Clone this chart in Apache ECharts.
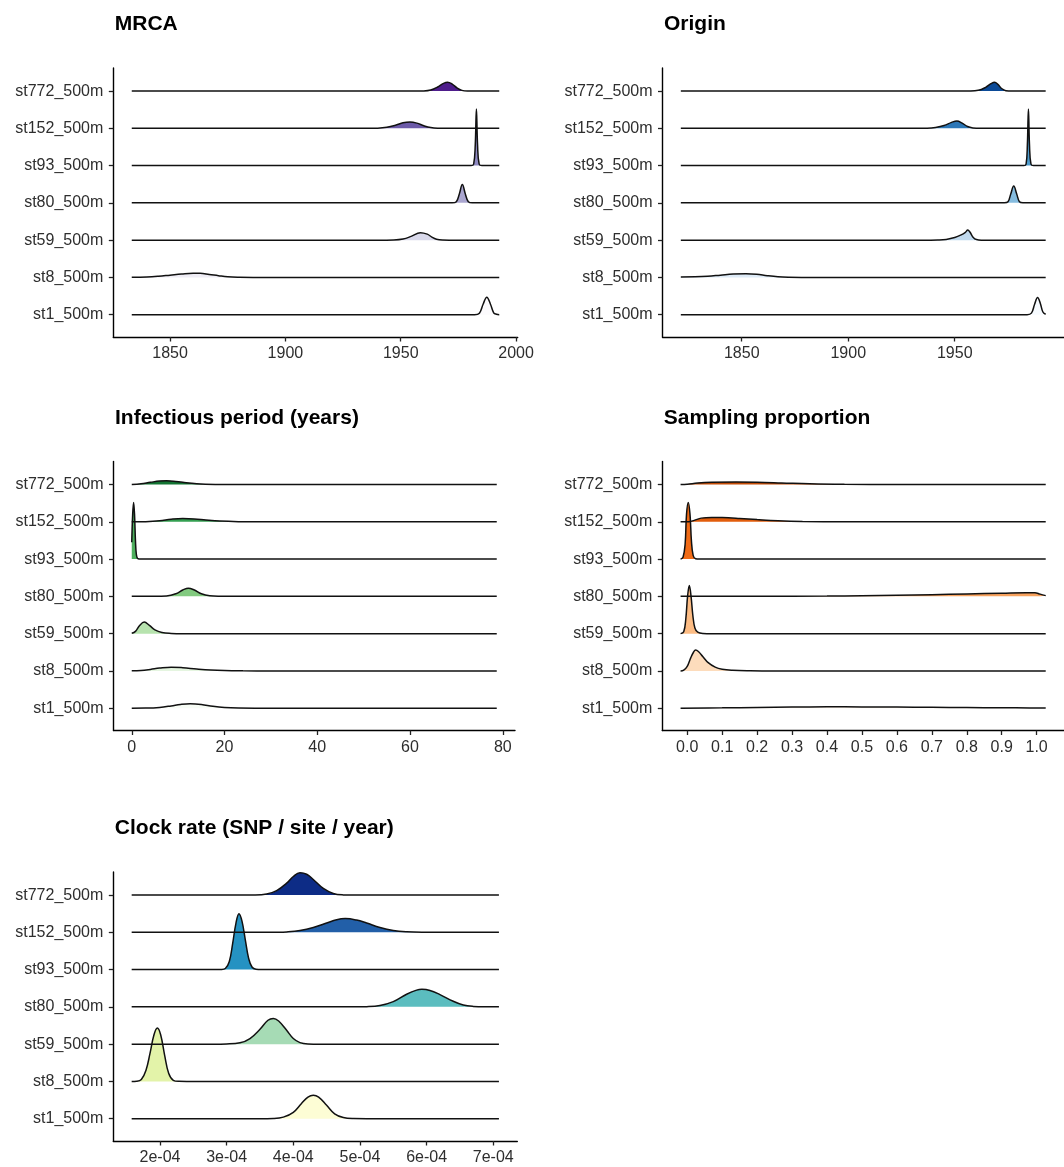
<!DOCTYPE html>
<html><head><meta charset="utf-8">
<script src="https://cdn.jsdelivr.net/npm/echarts@6/dist/echarts.min.js"></script>
<style>html,body{margin:0;padding:0;background:#fff}#c{width:1064px;height:1167px}</style>
</head><body><div id="c"></div>
<script>
// Row names, bottom to top
const rowNames = ['st1_500m','st8_500m','st59_500m','st80_500m','st93_500m','st152_500m','st772_500m'];

// Ridge curves: [x, scaled density height in row units], rows in rowNames order
const mrcaRidges = [
  [[1833.4,0],[1975,0],[1982,0],[1984.1,0.04],[1985.7,0.28],[1987.3,0.47],[1988.9,0.28],[1990.3,0.05],[1991.5,0.01],[1992.7,0]],
  [[1833.4,0.003],[1840,0.01],[1845,0.03],[1850,0.06],[1855,0.09],[1860,0.11],[1863,0.11],[1867,0.08],[1871,0.045],[1875,0.015],[1880,0.003],[1886,0],[1992.7,0]],
  [[1833.4,0],[1940,0],[1947,0.005],[1951,0.03],[1954.5,0.1],[1958.5,0.2],[1961.5,0.16],[1963.5,0.08],[1965.5,0.025],[1968,0.003],[1971,0],[1992.7,0]],
  [[1833.4,0],[1968,0],[1972.3,0],[1974.1,0.03],[1975.4,0.24],[1976.7,0.49],[1978,0.24],[1979.3,0.03],[1981,0],[1992.7,0]],
  [[1833.4,0],[1976,0],[1980.5,0],[1981.6,0.04],[1982.3,0.55],[1982.8,1.52],[1983.3,0.55],[1984,0.04],[1985.2,0],[1992.7,0]],
  [[1833.4,0],[1935,0],[1940,0.005],[1944,0.03],[1948,0.09],[1951,0.15],[1954,0.17],[1957,0.14],[1960,0.07],[1963,0.02],[1966,0.003],[1970,0],[1992.7,0]],
  [[1833.4,0],[1955,0],[1960,0.005],[1963,0.03],[1966,0.11],[1968.3,0.2],[1970.3,0.24],[1972.3,0.19],[1974.5,0.08],[1976.5,0.02],[1979,0.002],[1983,0],[1992.7,0]]
];
const originRidges = [
  [[1821.4,0],[1975,0],[1984,0],[1986,0.04],[1987.5,0.28],[1988.9,0.46],[1990.2,0.3],[1991.4,0.07],[1992.7,0.01]],
  [[1821.4,0.01],[1828,0.015],[1834,0.03],[1840,0.06],[1846,0.09],[1852,0.1],[1857,0.085],[1862,0.045],[1867,0.015],[1872,0.003],[1878,0],[1992.7,0]],
  [[1821.4,0],[1935,0],[1942,0.005],[1946,0.02],[1950,0.07],[1953,0.14],[1955,0.21],[1956.1,0.27],[1957.2,0.21],[1958.6,0.08],[1960.2,0.015],[1962.5,0],[1992.7,0]],
  [[1821.4,0],[1968,0],[1973.3,0],[1975,0.03],[1976.3,0.24],[1977.7,0.45],[1979.1,0.24],[1980.4,0.03],[1982,0],[1992.7,0]],
  [[1821.4,0],[1978,0],[1982.5,0],[1983.5,0.04],[1984.1,0.55],[1984.6,1.52],[1985.1,0.55],[1985.8,0.04],[1987,0],[1992.7,0]],
  [[1821.4,0],[1930,0],[1937,0.005],[1941,0.025],[1945,0.075],[1948.5,0.16],[1951,0.2],[1953.5,0.14],[1956,0.05],[1958.5,0.012],[1962,0],[1992.7,0]],
  [[1821.4,0],[1950,0],[1957,0.003],[1961,0.02],[1964.5,0.1],[1967,0.2],[1968.7,0.24],[1970.3,0.18],[1972,0.07],[1974,0.012],[1977,0],[1992.7,0]]
];
const infectiousRidges = [
  [[0,0],[3,0.003],[6,0.02],[8.5,0.06],[10.5,0.1],[12.6,0.12],[15,0.1],[17.5,0.05],[20,0.018],[23,0.004],[28,0],[78.7,0]],
  [[0,0.002],[2,0.012],[4,0.04],[6,0.075],[8.5,0.1],[11,0.085],[14,0.05],[17,0.022],[20,0.008],[24,0.002],[30,0],[78.7,0]],
  [[0,0.01],[0.8,0.06],[1.7,0.22],[2.7,0.31],[3.8,0.22],[5,0.1],[6.5,0.03],[8.5,0.006],[11,0],[78.7,0]],
  [[0,0],[5,0],[7.5,0.01],[9.5,0.07],[11,0.17],[12.2,0.22],[13.5,0.17],[15,0.07],[16.8,0.015],[19,0.002],[22,0],[78.7,0]],
  [[0,0.45],[0.2,1.2],[0.4,1.52],[0.6,1.2],[0.8,0.5],[1.0,0.12],[1.3,0.015],[2,0],[78.7,0]],
  [[0,0],[3,0.006],[6,0.03],[8.5,0.07],[11,0.09],[13.5,0.08],[16,0.05],[19,0.022],[23,0.006],[28,0.001],[33,0],[78.7,0]],
  [[0,0],[2,0.02],[4,0.06],[6,0.095],[7.5,0.1],[9,0.09],[11,0.06],[14,0.025],[18,0.006],[24,0],[78.7,0]]
];
const samplingRidges = [
  [[-0.019,0],[0.1,0.008],[0.2,0.02],[0.3,0.03],[0.4,0.035],[0.5,0.033],[0.6,0.028],[0.7,0.022],[0.8,0.016],[0.9,0.01],[0.98,0.006],[1.026,0.001]],
  [[-0.019,0],[-0.01,0.02],[0.0,0.12],[0.01,0.35],[0.018,0.5],[0.024,0.56],[0.032,0.52],[0.045,0.38],[0.06,0.22],[0.08,0.1],[0.1,0.045],[0.13,0.018],[0.18,0.005],[0.25,0],[1.026,0]],
  [[-0.019,0],[-0.01,0.05],[-0.004,0.4],[0.001,1.0],[0.006,1.29],[0.011,1.0],[0.016,0.5],[0.022,0.15],[0.03,0.04],[0.045,0.005],[0.07,0],[1.026,0]],
  [[-0.019,0],[0.2,0.002],[0.4,0.008],[0.5,0.015],[0.6,0.027],[0.7,0.045],[0.8,0.065],[0.9,0.085],[0.97,0.1],[0.995,0.1],[1.01,0.06],[1.026,0.02]],
  [[-0.019,0],[-0.012,0.05],[-0.006,0.4],[-0.002,1.2],[0.003,1.52],[0.008,1.2],[0.012,0.5],[0.017,0.1],[0.024,0.01],[0.035,0],[1.026,0]],
  [[-0.019,0],[0.005,0.005],[0.02,0.04],[0.04,0.1],[0.07,0.12],[0.1,0.115],[0.15,0.09],[0.2,0.06],[0.26,0.03],[0.33,0.012],[0.45,0.003],[0.6,0],[1.026,0]],
  [[-0.019,0],[0.0,0.01],[0.03,0.04],[0.07,0.06],[0.14,0.07],[0.2,0.065],[0.27,0.045],[0.35,0.02],[0.45,0.007],[0.6,0.002],[0.8,0],[1.026,0]]
];
const clockRidges = [
  [[1.575e-4,0],[3.5e-4,0],[3.7e-4,0.005],[3.85e-4,0.04],[4.0e-4,0.17],[4.12e-4,0.4],[4.22e-4,0.58],[4.3e-4,0.63],[4.38e-4,0.58],[4.5e-4,0.36],[4.62e-4,0.13],[4.75e-4,0.03],[4.9e-4,0.003],[5.1e-4,0],[7.085e-4,0]],
  [[1.575e-4,0],[1.65e-4,0.005],[1.72e-4,0.05],[1.79e-4,0.3],[1.85e-4,0.75],[1.91e-4,1.25],[1.96e-4,1.43],[2.01e-4,1.25],[2.07e-4,0.7],[2.13e-4,0.22],[2.2e-4,0.03],[2.28e-4,0.002],[2.4e-4,0],[7.085e-4,0]],
  [[1.575e-4,0],[2.8e-4,0],[3.0e-4,0.005],[3.2e-4,0.035],[3.35e-4,0.15],[3.5e-4,0.4],[3.62e-4,0.64],[3.7e-4,0.69],[3.78e-4,0.62],[3.9e-4,0.37],[4.0e-4,0.15],[4.1e-4,0.04],[4.22e-4,0.005],[4.4e-4,0],[7.085e-4,0]],
  [[1.575e-4,0],[4.9e-4,0],[5.1e-4,0.005],[5.3e-4,0.035],[5.5e-4,0.14],[5.7e-4,0.34],[5.85e-4,0.45],[5.93e-4,0.47],[6.05e-4,0.44],[6.2e-4,0.33],[6.4e-4,0.15],[6.55e-4,0.05],[6.7e-4,0.012],[6.9e-4,0.001],[7.085e-4,0]],
  [[1.575e-4,0],[2.8e-4,0],[2.92e-4,0.003],[2.98e-4,0.03],[3.04e-4,0.22],[3.09e-4,0.7],[3.14e-4,1.25],[3.185e-4,1.5],[3.23e-4,1.3],[3.28e-4,0.8],[3.33e-4,0.3],[3.38e-4,0.07],[3.44e-4,0.008],[3.52e-4,0],[7.085e-4,0]],
  [[1.575e-4,0],[3.5e-4,0],[3.75e-4,0.003],[3.9e-4,0.012],[4.1e-4,0.05],[4.3e-4,0.13],[4.5e-4,0.25],[4.65e-4,0.34],[4.78e-4,0.37],[4.95e-4,0.33],[5.1e-4,0.25],[5.3e-4,0.13],[5.5e-4,0.05],[5.7e-4,0.015],[5.95e-4,0.002],[6.2e-4,0],[7.085e-4,0]],
  [[1.575e-4,0],[3.2e-4,0],[3.4e-4,0.003],[3.6e-4,0.03],[3.75e-4,0.12],[3.9e-4,0.32],[4.0e-4,0.5],[4.1e-4,0.6],[4.2e-4,0.56],[4.3e-4,0.42],[4.45e-4,0.18],[4.6e-4,0.045],[4.75e-4,0.006],[4.9e-4,0],[7.085e-4,0]]
];

// Tick values and labels
const yearTicks = [1850,1900,1950,2000];
const yearTickLabels = ['1850','1900','1950','2000'];
const originTicks = [1850,1900,1950];
const originTickLabels = ['1850','1900','1950'];
const infTicks = [0,20,40,60,80];
const infTickLabels = ['0','20','40','60','80'];
const sampTicks = [0,0.1,0.2,0.3,0.4,0.5,0.6,0.7,0.8,0.9,1.0];
const sampTickLabels = ['0.0','0.1','0.2','0.3','0.4','0.5','0.6','0.7','0.8','0.9','1.0'];
const clockTicks = [2e-4,3e-4,4e-4,5e-4,6e-4,7e-4];
const clockTickLabels = ['2e-04','3e-04','4e-04','5e-04','6e-04','7e-04'];

// Fill palettes (bottom row to top row)
const purples = ['#fcfbfd','#efedf5','#d9d9eb','#aaa6d0','#8e89c1','#6c5aa8','#4e1d8b'];
const blues   = ['#f7fbff','#deebf7','#c0d9ee','#85bcdf','#4d9acb','#2c77b7','#0b4a97'];
const greens  = ['#f7fcf5','#e5f5e0','#b7e3ae','#82ca7f','#4daf5d','#35a052','#137433'];
const oranges = ['#fff5eb','#fddcbc','#fcbc84','#f7a25e','#f06b16','#e25d0c','#c44c06'];
const ylgnbu  = ['#fdfdd5','#e3f3a9','#a6dbb5','#5bbdbf','#2592c2','#225fa8','#0d2c86'];

const FONT = '"Liberation Sans", Arial, Helvetica, sans-serif';
const panels = [
  {title:'MRCA', left:113.3, top:68, width:404.4, height:269, xmin:1825.4, xmax:2000.7, ticks:yearTicks, labels:yearTickLabels, data:mrcaRidges, colors:purples},
  {title:'Origin', left:662.5, top:68, width:403.4, height:269, xmin:1812.8, xmax:2001.3, ticks:originTicks, labels:originTickLabels, data:originRidges, colors:blues},
  {title:'Infectious period (years)', left:113.5, top:461.5, width:401.5, height:269, xmin:-3.935, xmax:82.635, ticks:infTicks, labels:infTickLabels, data:infectiousRidges, colors:greens},
  {title:'Sampling proportion', left:662.3, top:461.5, width:403.5, height:269, xmin:-0.0713, xmax:1.0783, ticks:sampTicks, labels:sampTickLabels, data:samplingRidges, colors:oranges},
  {title:'Clock rate (SNP / site / year)', left:113.3, top:872, width:404, height:269, xmin:1.2995e-4, xmax:7.3605e-4, ticks:clockTicks, labels:clockTickLabels, data:clockRidges, colors:ylgnbu}
];
const YMIN = -0.6, YMAX = 6.62;
const rowIdx = rowNames.map((_, i) => i);

const option = {
  animation: false,
  backgroundColor: '#ffffff',
  title: [], grid: [], xAxis: [], yAxis: [], series: []
};

panels.forEach((p, k) => {
  option.title.push({
    text: p.title, left: p.left + 1.5, top: p.top - 54, padding: 0,
    textStyle: {fontFamily: FONT, fontSize: 21, fontWeight: 'bold', color: '#000'}
  });
  option.grid.push({left: p.left, top: p.top, width: p.width, height: p.height, containLabel: false});
  const span = p.xmax - p.xmin;
  option.xAxis.push({
    type: 'value', gridIndex: k, min: p.xmin, max: p.xmax,
    axisLine: {show: true, onZero: false, lineStyle: {color: '#000', width: 1.4}},
    axisTick: {show: true, length: 4.5, customValues: p.ticks, lineStyle: {color: '#222', width: 1.3}},
    axisLabel: {
      show: true, customValues: p.ticks, margin: 9, color: '#2e2e2e', fontSize: 16, fontFamily: FONT,
      formatter: v => { const i = p.ticks.findIndex(t => Math.abs(t - v) < span * 1e-6); return i >= 0 ? p.labels[i] : ''; }
    },
    splitLine: {show: false}
  });
  option.yAxis.push({
    type: 'value', gridIndex: k, min: YMIN, max: YMAX,
    axisLine: {show: true, onZero: false, lineStyle: {color: '#000', width: 1.4}},
    axisTick: {show: true, length: 4.5, customValues: rowIdx, lineStyle: {color: '#222', width: 1.3}},
    axisLabel: {
      show: true, customValues: rowIdx, margin: 10, color: '#2e2e2e', fontSize: 16, fontFamily: FONT,
      formatter: v => { const i = Math.round(v); return Math.abs(v - i) < 1e-6 ? rowNames[i] : ''; }
    },
    splitLine: {show: false}
  });
  // top rows first, lower rows drawn over them
  for (let i = rowNames.length - 1; i >= 0; i--) {
    option.series.push({
      type: 'line', xAxisIndex: k, yAxisIndex: k, name: rowNames[i],
      data: p.data[i].map(pt => [pt[0], i + pt[1]]),
      showSymbol: false, symbol: 'none', smooth: 0.4, clip: false,
      lineStyle: {color: '#111', width: 1.5},
      areaStyle: {color: p.colors[i], opacity: 1, origin: i},
      emphasis: {disabled: true}, silent: true
    });
  }
});

const chart = echarts.init(document.getElementById('c'), null, {renderer: 'canvas'});
chart.setOption(option);
</script></body></html>
